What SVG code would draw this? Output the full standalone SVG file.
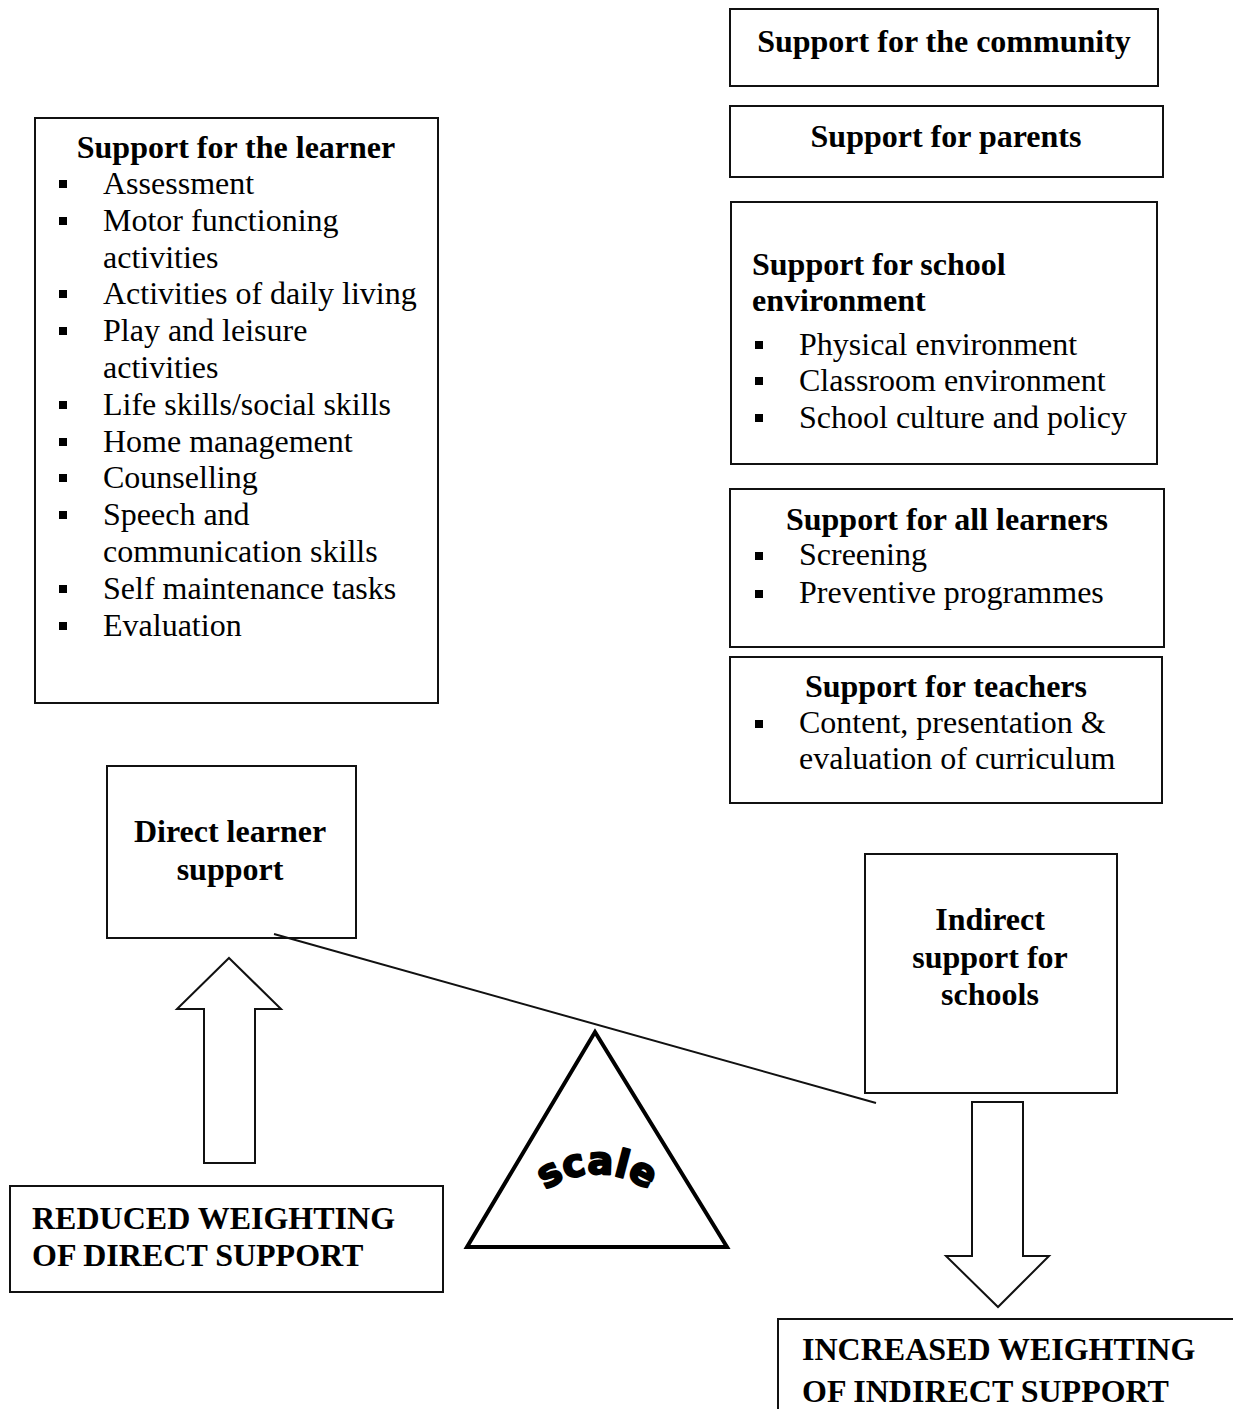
<svg xmlns="http://www.w3.org/2000/svg" width="1233" height="1409" viewBox="0 0 1233 1409">
  <style>
    .box { fill: #fff; stroke: #111; stroke-width: 2; }
    .h { font-family: "Liberation Serif", "Times New Roman", serif; font-size: 32px; font-weight: bold; fill: #000; }
    .t { font-family: "Liberation Serif", "Times New Roman", serif; font-size: 32px; fill: #000; }
    .c { text-anchor: middle; }
    .bullet { fill: #000; }
    .arrow { fill: #fff; stroke: #111; stroke-width: 2; stroke-linejoin: miter; }
    .beam { stroke: #111; stroke-width: 2; fill: none; }
    .fulcrum { fill: #fff; stroke: #000; stroke-width: 4; stroke-linejoin: miter; }
    .scale { font-family: "DejaVu Sans", sans-serif; font-weight: bold; font-size: 38px; fill: #000; stroke: #000; stroke-width: 2.2; stroke-linejoin: round; }
  </style>
  <defs>
    <path id="scaleArc" d="M 515 1230 A 88 88 0 0 1 679 1230"/>
  </defs>
  <rect width="1233" height="1409" fill="#fff"/>

  <!-- left column -->
  <g id="learner">
    <rect class="box" x="35" y="118" width="403" height="585"/>
    <text class="h c" x="236" y="158">Support for the learner</text>
    <g class="bullet">
      <rect x="59" y="180" width="8" height="8"/>
      <rect x="59" y="217" width="8" height="8"/>
      <rect x="59" y="290" width="8" height="8"/>
      <rect x="59" y="327" width="8" height="8"/>
      <rect x="59" y="401" width="8" height="8"/>
      <rect x="59" y="438" width="8" height="8"/>
      <rect x="59" y="474" width="8" height="8"/>
      <rect x="59" y="511" width="8" height="8"/>
      <rect x="59" y="585" width="8" height="8"/>
      <rect x="59" y="622" width="8" height="8"/>
    </g>
    <text class="t" x="103" y="194">Assessment</text>
    <text class="t" x="103" y="231">Motor functioning</text>
    <text class="t" x="103" y="267.6">activities</text>
    <text class="t" x="103" y="304.4">Activities of daily living</text>
    <text class="t" x="103" y="341.2">Play and leisure</text>
    <text class="t" x="103" y="378">activities</text>
    <text class="t" x="103" y="414.8">Life skills/social skills</text>
    <text class="t" x="103" y="451.6">Home management</text>
    <text class="t" x="103" y="488.4">Counselling</text>
    <text class="t" x="103" y="525.2">Speech and</text>
    <text class="t" x="103" y="562">communication skills</text>
    <text class="t" x="103" y="598.8">Self maintenance tasks</text>
    <text class="t" x="103" y="635.6">Evaluation</text>
  </g>

  <g id="direct">
    <rect class="box" x="107" y="766" width="249" height="172"/>
    <text class="h c" x="230" y="842">Direct learner</text>
    <text class="h c" x="230" y="880">support</text>
  </g>

  <g id="reduced">
    <rect class="box" x="10" y="1186" width="433" height="106"/>
    <text class="h" x="32" y="1229">REDUCED WEIGHTING</text>
    <text class="h" x="32" y="1266">OF DIRECT SUPPORT</text>
  </g>

  <!-- fulcrum -->
  <g id="fulcrum">
    <polygon class="fulcrum" points="595,1032 727,1247 467,1247"/>
    <text class="scale"><textPath href="#scaleArc" startOffset="50%" text-anchor="middle">scale</textPath></text>
  </g>

  <!-- right column -->
  <g id="community">
    <rect class="box" x="730" y="9" width="428" height="77"/>
    <text class="h c" x="944" y="52">Support for the community</text>
  </g>

  <g id="parents">
    <rect class="box" x="730" y="106" width="433" height="71"/>
    <text class="h c" x="946" y="147">Support for parents</text>
  </g>

  <g id="school-environment">
    <rect class="box" x="731" y="202" width="426" height="262"/>
    <text class="h" x="752" y="275">Support for school</text>
    <text class="h" x="752" y="311">environment</text>
    <g class="bullet">
      <rect x="755" y="341" width="8" height="8"/>
      <rect x="755" y="377" width="8" height="8"/>
      <rect x="755" y="414" width="8" height="8"/>
    </g>
    <text class="t" x="799" y="355">Physical environment</text>
    <text class="t" x="799" y="391">Classroom environment</text>
    <text class="t" x="799" y="428">School culture and policy</text>
  </g>

  <g id="all-learners">
    <rect class="box" x="730" y="489" width="434" height="158"/>
    <text class="h c" x="947" y="530">Support for all learners</text>
    <g class="bullet">
      <rect x="755" y="552" width="8" height="8"/>
      <rect x="755" y="590" width="8" height="8"/>
    </g>
    <text class="t" x="799" y="565">Screening</text>
    <text class="t" x="799" y="603">Preventive programmes</text>
  </g>

  <g id="teachers">
    <rect class="box" x="730" y="657" width="432" height="146"/>
    <text class="h c" x="946" y="697">Support for teachers</text>
    <rect class="bullet" x="755" y="720" width="8" height="8"/>
    <text class="t" x="799" y="733">Content, presentation &amp;</text>
    <text class="t" x="799" y="769">evaluation of curriculum</text>
  </g>

  <g id="indirect">
    <rect class="box" x="865" y="854" width="252" height="239"/>
    <text class="h c" x="990" y="930">Indirect</text>
    <text class="h c" x="990" y="968">support for</text>
    <text class="h c" x="990" y="1005">schools</text>
  </g>

  <g id="increased">
    <rect class="box" x="778" y="1319" width="480" height="120"/>
    <text class="h" x="802" y="1360">INCREASED WEIGHTING</text>
    <text class="h" x="802" y="1402">OF INDIRECT SUPPORT</text>
  </g>

  <!-- connectors: balance beam and arrows -->
  <g id="connectors">
    <line class="beam" x1="274" y1="934" x2="876" y2="1103"/>
    <polygon class="arrow" points="229,958 281,1009 255,1009 255,1163 204,1163 204,1009 177,1009"/>
    <polygon class="arrow" points="972,1102 1023,1102 1023,1256 1049,1256 998,1307 946,1256 972,1256"/>
  </g>
</svg>
